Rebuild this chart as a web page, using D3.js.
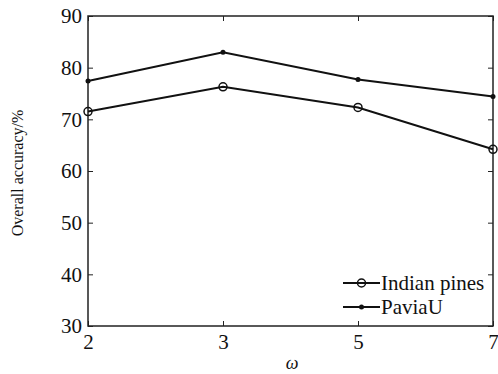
<!DOCTYPE html>
<html>
<head>
<meta charset="utf-8">
<script src="https://cdn.jsdelivr.net/npm/d3@7"></script>
<style>
body { margin: 0; background: #fff; }
text { font-family: "Liberation Serif", "Times New Roman", serif; fill: #111; }
</style>
</head>
<body>
<svg></svg>
<script>
var width = 498;
var height = 374;
var margin = {left: 88, right: 5, top: 16, bottom: 48};

// omega values on X (evenly spaced)
var omegas = ["2", "3", "5", "7"];
var indianPines = [71.5, 76.3, 72.3, 64.2];
var paviaU = [77.4, 83.0, 77.7, 74.4];
var yTicks = [30, 40, 50, 60, 70, 80, 90];

var svg = d3.select("svg")
    .attr("width", width)
    .attr("height", height);

var xScale = d3.scalePoint()
    .domain(omegas)
    .range([margin.left, width - margin.right]);

var yScale = d3.scaleLinear()
    .domain([30, 90])
    .range([height - margin.bottom, margin.top]);

var x0 = margin.left, x1 = width - margin.right;
var y0 = height - margin.bottom, y1 = margin.top;

// ticks point inward, on all four sides
var xAxis = d3.axisBottom(xScale).tickSize(-5).tickSizeOuter(0).tickPadding(8);
var xTop = d3.axisTop(xScale).tickSize(-5).tickSizeOuter(0).tickFormat("");
var yAxis = d3.axisLeft(yScale).tickValues(yTicks).tickSize(-5).tickSizeOuter(0).tickPadding(6);
var yRight = d3.axisRight(yScale).tickValues(yTicks).tickSize(-5).tickSizeOuter(0).tickFormat("");

function styleAxis(g) {
    g.select(".domain").remove();
    g.selectAll("line").attr("stroke", "#222").attr("stroke-width", 1);
    g.selectAll("text").style("font-size", "21px").style("font-family", "Liberation Serif").attr("fill", "#111");
}

svg.append("g").attr("transform", "translate(0," + y0 + ")").call(xAxis).call(styleAxis);
svg.append("g").attr("transform", "translate(0," + y1 + ")").call(xTop).call(styleAxis);
svg.append("g").attr("transform", "translate(" + x0 + ",0)").call(yAxis).call(styleAxis);
svg.append("g").attr("transform", "translate(" + x1 + ",0)").call(yRight).call(styleAxis);

// frame
svg.append("rect")
    .attr("x", x0).attr("y", y1)
    .attr("width", x1 - x0).attr("height", y0 - y1)
    .attr("fill", "none").attr("stroke", "#222").attr("stroke-width", 1.5);

var line = d3.line()
    .x(function(d, i) { return xScale(omegas[i]); })
    .y(function(d) { return yScale(d); });

function drawSeries(values, marker) {
    svg.append("path")
        .datum(values)
        .attr("d", line)
        .attr("fill", "none")
        .attr("stroke", "#111")
        .attr("stroke-width", 2);
    var pts = svg.append("g").selectAll("circle")
        .data(values)
        .enter()
        .append("circle")
        .attr("cx", function(d, i) { return xScale(omegas[i]); })
        .attr("cy", function(d) { return yScale(d); });
    if (marker === "open") {
        pts.attr("r", 4).attr("fill", "none").attr("stroke", "#111").attr("stroke-width", 1.5);
    } else {
        pts.attr("r", 2.5).attr("fill", "#111");
    }
}

drawSeries(indianPines, "open");
drawSeries(paviaU, "dot");

// legend
var legend = [
    {name: "Indian pines", marker: "open", y: 283},
    {name: "PaviaU", marker: "dot", y: 307}
];
legend.forEach(function(l) {
    svg.append("line")
        .attr("x1", 343).attr("x2", 380)
        .attr("y1", l.y).attr("y2", l.y)
        .attr("stroke", "#111").attr("stroke-width", 2);
    var c = svg.append("circle").attr("cx", 361.5).attr("cy", l.y);
    if (l.marker === "open") {
        c.attr("r", 4).attr("fill", "none").attr("stroke", "#111").attr("stroke-width", 1.5);
    } else {
        c.attr("r", 2.5).attr("fill", "#111");
    }
    svg.append("text")
        .attr("x", 381).attr("y", l.y)
        .attr("dy", "0.35em")
        .style("font-size", "21px")
        .text(l.name);
});

// axis labels
svg.append("text")
    .attr("transform", "rotate(-90)")
    .attr("x", -173)
    .attr("y", 23)
    .style("text-anchor", "middle")
    .style("font-size", "16px")
    .text("Overall accuracy/%");

svg.append("text")
    .attr("x", 292)
    .attr("y", 369)
    .style("text-anchor", "middle")
    .style("font-size", "18px")
    .style("font-style", "italic")
    .text("ω");
</script>
</body>
</html>
